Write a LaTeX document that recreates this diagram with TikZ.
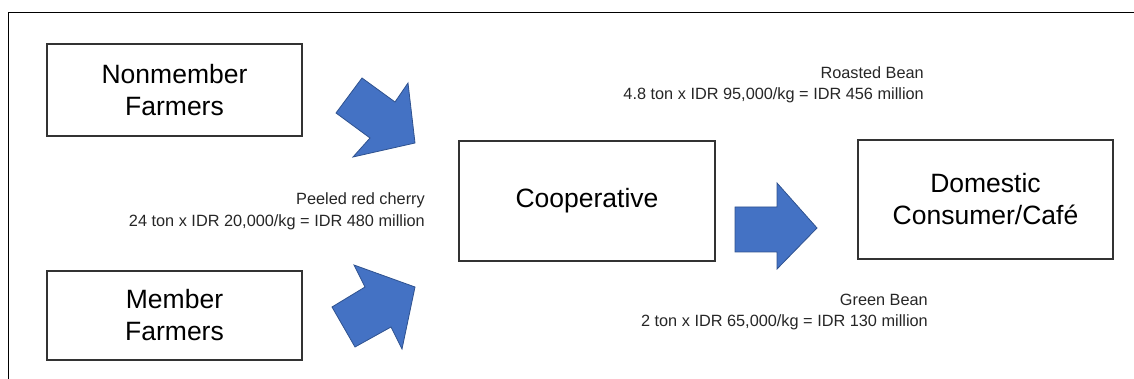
\documentclass[tikz,border=0pt]{standalone}
\usepackage{fontspec}
\setmainfont{Liberation Sans}
\begin{document}
\begin{tikzpicture}[x=1pt,y=-1pt,
  box/.style={draw=black!80,line width=1.2pt,fill=white,align=center,inner sep=0pt,
    font=\fontsize{26.5}{32}\selectfont},
  lbl/.style={anchor=east,align=right,inner sep=0pt,text=black!85,
    font=\fontsize{16.3}{21.5}\selectfont},
  blk/.style={fill=arrowblue,draw=arrowedge,line width=0.8pt,line join=miter}]
\definecolor{arrowblue}{HTML}{4472C4}
\definecolor{arrowedge}{HTML}{2F528F}
\useasboundingbox (0,0) rectangle (1134,379);
% frame
\draw[line width=1.3pt] (8.5,379) -- (8.5,12.5) -- (1134,12.5);
% boxes
\node[box,minimum width=255pt,minimum height=92pt] (non) at (174.5,90) {Nonmember\\Farmers};
\node[box,minimum width=255pt,minimum height=89pt] (mem) at (174.5,315.5) {Member\\Farmers};
\node[box,minimum width=256pt,minimum height=120pt] (coop) at (587,201) {Cooperative};
\node[box,minimum width=255pt,minimum height=119pt] (dom) at (985.5,199.5) {Domestic\\Consumer/Café};
% block arrows
\draw[blk] (336,113) -- (362,78) -- (395,102) -- (408,83) -- (415,143) -- (353,157) -- (370,138) -- cycle;
\draw[blk] (354,265) -- (415,287) -- (402,349) -- (391,327) -- (355,347) -- (332,307) -- (365,287) -- cycle;
\draw[blk] (735,207) -- (777,207) -- (777,183) -- (817,228) -- (777,269) -- (777,252) -- (735,252) -- cycle;
% labels
\node[lbl] (roast) at (924,85) {Roasted Bean\\4.8 ton x IDR 95,000/kg = IDR 456 million};
\node[lbl] (green) at (928,312) {Green Bean\\2 ton x IDR 65,000/kg = IDR 130 million};
\node[lbl] (cherry) at (425,211.5) {Peeled red cherry\\24 ton x IDR 20,000/kg = IDR 480 million};
\end{tikzpicture}
\end{document}
